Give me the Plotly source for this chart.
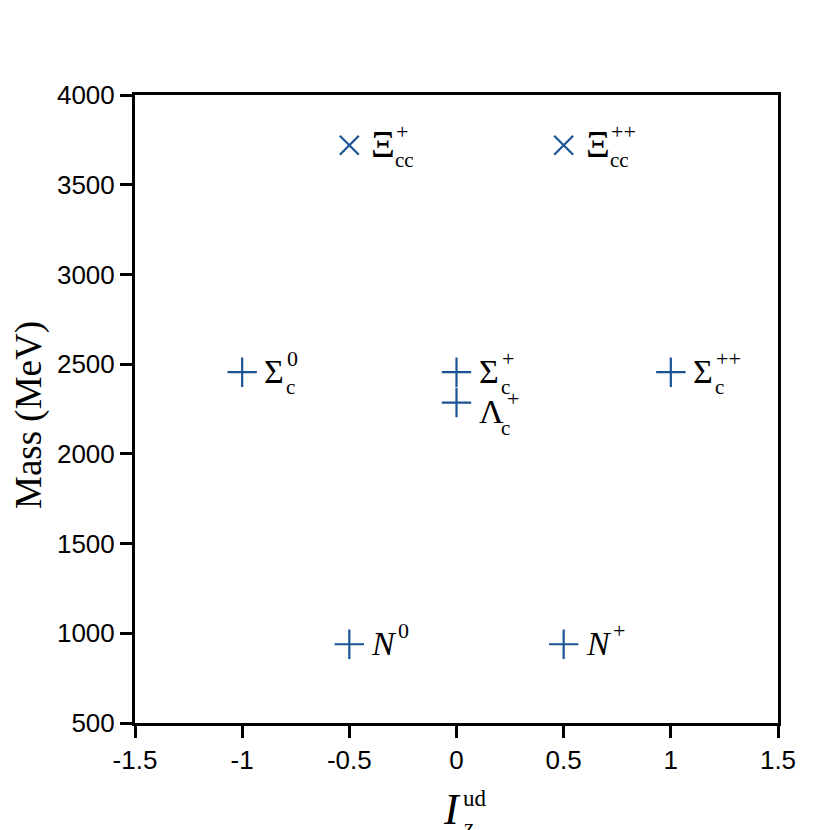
import plotly.graph_objects as go

# Data
cross_names = ["Σc0", "Σc+", "Σc++", "Λc+", "N0", "N+"]
cross_iz = [-1, 0, 1, 0, -0.5, 0.5]
cross_mass = [2455, 2455, 2455, 2286, 939, 939]
x_names = ["Ξcc+", "Ξcc++"]
x_iz = [-0.5, 0.5]
x_mass = [3720, 3720]

x_ticks = [-1.5, -1, -0.5, 0, 0.5, 1, 1.5]
x_ticklabels = ["-1.5", "-1", "-0.5", "0", "0.5", "1", "1.5"]
y_ticks = [500, 1000, 1500, 2000, 2500, 3000, 3500, 4000]

# label parts: (x, y, main, sub, sup, italic, main_dy, main_size, ss_dx, sup_dx)
labels = [
    (-0.5, 3720, "Ξ", "cc", "+", False, 0, 37, 2, 0),
    (0.5, 3720, "Ξ", "cc", "++", False, 0, 37, 2, 0),
    (-1, 2455, "Σ", "c", "0", False, 0, 34, 0, 0),
    (0, 2455, "Σ", "c", "+", False, 0, 34, 0, 0),
    (1, 2455, "Σ", "c", "++", False, 0, 34, 0, 0),
    (0, 2286, "Λ", "c", "+", False, -10, 34, 0, 5),
    (-0.5, 939, "N", "", "0", True, 0, 34, 4, 0),
    (0.5, 939, "N", "", "+", True, 0, 34, 4, 0),
]

BLUE = "#1b5494"
SERIF = "Liberation Serif, Times New Roman, serif"
SANS = "Liberation Sans, Arial, sans-serif"

fig = go.Figure()
fig.add_trace(go.Scatter(x=cross_iz, y=cross_mass, mode="markers",
                         marker=dict(symbol="cross-thin", size=21,
                                     line=dict(color=BLUE, width=2.2)),
                         hoverinfo="skip", showlegend=False))
fig.add_trace(go.Scatter(x=x_iz, y=x_mass, mode="markers",
                         marker=dict(symbol="x-thin", size=19,
                                     line=dict(color=BLUE, width=2.2)),
                         hoverinfo="skip", showlegend=False))

ann = []
for (lx, ly, main, sub, sup, ital, mdy, msize, ssdx, sdx) in labels:
    mtxt = f"<i>{main}</i>" if ital else main
    ann.append(dict(x=lx, y=ly, xref="x", yref="y", text=mtxt, showarrow=False,
                    xanchor="left", yanchor="middle", xshift=20, yshift=mdy + 1,
                    font=dict(family=SERIF, size=msize, color="black")))
    ssx = 42 + ssdx
    if sub:
        ann.append(dict(x=lx, y=ly, xref="x", yref="y", text=sub, showarrow=False,
                        xanchor="left", yanchor="middle", xshift=ssx, yshift=mdy - 15,
                        font=dict(family=SERIF, size=21, color="black")))
    if sup:
        ann.append(dict(x=lx, y=ly, xref="x", yref="y", text=sup, showarrow=False,
                        xanchor="left", yanchor="middle", xshift=ssx + 1 + sdx,
                        yshift=mdy + 14,
                        font=dict(family=SERIF, size=22, color="black")))

# axis titles
ann.append(dict(x=0, y=0.5, xref="paper", yref="paper", text="Mass (MeV)",
                showarrow=False, textangle=-90, xanchor="center", yanchor="middle",
                xshift=-106, yshift=-6, font=dict(family=SERIF, size=37, color="black")))
ann.append(dict(x=0, y=0, xref="x", yref="paper", text="<i>I</i>", showarrow=False,
                xanchor="center", yanchor="middle", xshift=-5, yshift=-86,
                font=dict(family=SERIF, size=44, color="black")))
ann.append(dict(x=0, y=0, xref="x", yref="paper", text="ud", showarrow=False,
                xanchor="left", yanchor="middle", xshift=4, yshift=-75,
                font=dict(family=SERIF, size=23, color="black")))
ann.append(dict(x=0, y=0, xref="x", yref="paper", text="z", showarrow=False,
                xanchor="left", yanchor="middle", xshift=5, yshift=-104,
                font=dict(family=SERIF, size=23, color="black")))

fig.update_layout(
    width=830, height=830,
    margin=dict(l=127, r=60, t=87, b=115, autoexpand=False),
    paper_bgcolor="white", plot_bgcolor="white",
    annotations=ann,
    xaxis=dict(range=[-1.5, 1.5], tickvals=x_ticks, ticktext=x_ticklabels,
               showgrid=False, zeroline=False, showline=True, linecolor="black",
               linewidth=3, mirror=True, ticks="outside", ticklen=12, tickwidth=3,
               tickcolor="black", tickfont=dict(family=SANS, size=26, color="black"),
               automargin=False),
    yaxis=dict(range=[500, 4000], tickvals=y_ticks,
               showgrid=False, zeroline=False, showline=True, linecolor="black",
               linewidth=3, mirror=True, ticks="outside", ticklen=12, tickwidth=3,
               tickcolor="black", tickfont=dict(family=SANS, size=26, color="black"),
               automargin=False),
)

fig.write_html("out.html")
